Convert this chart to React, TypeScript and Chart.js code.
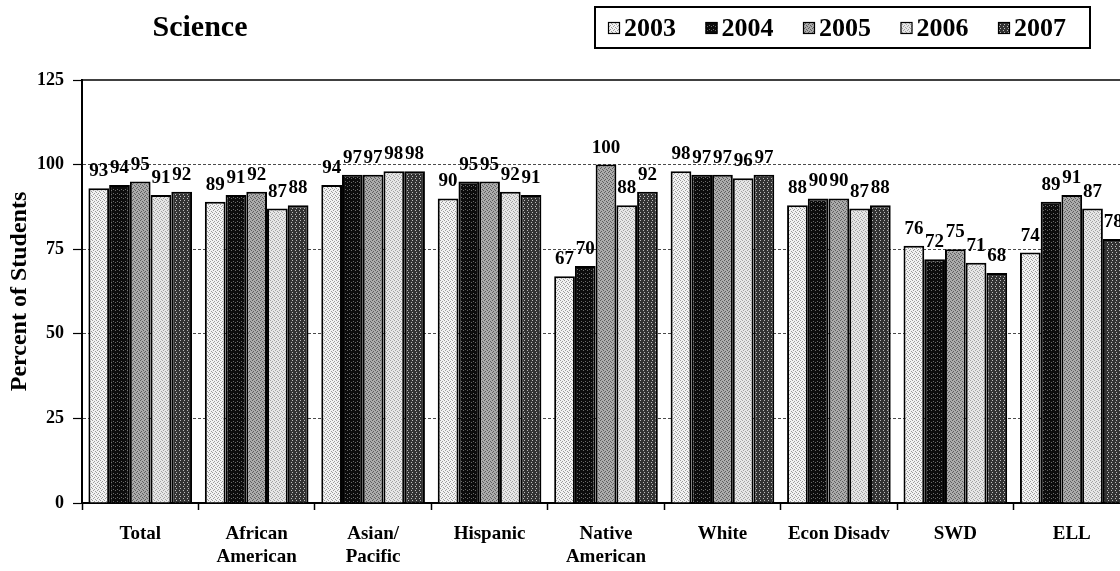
import React, { useEffect, useRef } from 'react';
import { Chart, registerables } from 'chart.js';

Chart.register(...registerables);

const categories: string[][] = [
  ['Total'],
  ['African', 'American'],
  ['Asian/', 'Pacific'],
  ['Hispanic'],
  ['Native', 'American'],
  ['White'],
  ['Econ Disadv'],
  ['SWD'],
  ['ELL'],
];
const seriesNames = ['2003', '2004', '2005', '2006', '2007'];
const v2003 = [93, 89, 94, 90, 67, 98, 88, 76, 74];
const v2004 = [94, 91, 97, 95, 70, 97, 90, 72, 89];
const v2005 = [95, 92, 97, 95, 100, 97, 90, 75, 91];
const v2006 = [91, 87, 98, 92, 88, 96, 87, 71, 87];
const v2007 = [92, 88, 98, 91, 92, 97, 88, 68, 78];
const yMin = 0;
const yMax = 125;
const yStep = 25;
const chartTitle = 'Science';
const yTitle = 'Percent of Students';

const FONT = "'Liberation Serif', 'Times New Roman', serif";

// pattern specs: base colour, dot colour, dot positions in a 4x4 cell
const patternSpecs = [
  { base: '#f2f2f2', dot: '#9c9c9c', dots: [[0, 0], [2, 1], [1, 2], [3, 3]] },
  { base: '#0c0c0c', dot: '#6a6a6a', dots: [[1, 1], [3, 2]] },
  { base: '#ababab', dot: '#5e5e5e', dots: [[0, 0], [2, 1], [1, 3], [3, 2]] },
  { base: '#e6e6e6', dot: '#a2a2a2', dots: [[0, 1], [2, 0], [1, 3], [3, 2]] },
  { base: '#333333', dot: '#bdbdbd', dots: [[0, 0], [3, 2]] },
];

function makePattern(spec: { base: string; dot: string; dots: number[][] }): CanvasPattern | string {
  const c = document.createElement('canvas');
  c.width = 4;
  c.height = 4;
  const g = c.getContext('2d');
  if (!g) return spec.base;
  g.fillStyle = spec.base;
  g.fillRect(0, 0, 4, 4);
  g.fillStyle = spec.dot;
  spec.dots.forEach(([x, y]) => g.fillRect(x, y, 1, 1));
  const p = g.createPattern(c, 'repeat');
  return p || spec.base;
}

export default function App() {
  const ref = useRef<HTMLCanvasElement | null>(null);

  useEffect(() => {
    if (!ref.current) return;
    const patterns = patternSpecs.map(makePattern);
    const values = [v2003, v2004, v2005, v2006, v2007];

    const labelPlugin = {
      id: 'valueLabels',
      afterDatasetsDraw(chart: any) {
        const ctx = chart.ctx;
        ctx.save();
        ctx.fillStyle = '#000';
        ctx.font = `bold 19px ${FONT}`;
        ctx.textAlign = 'center';
        ctx.textBaseline = 'alphabetic';
        chart.data.datasets.forEach((ds: any, i: number) => {
          const meta = chart.getDatasetMeta(i);
          meta.data.forEach((el: any, j: number) => {
            ctx.fillText(String(ds.data[j]), el.x, el.y - 12);
          });
        });
        ctx.restore();
      },
    };

    const framePlugin = {
      id: 'frameTitleLegend',
      afterDraw(chart: any) {
        const ctx = chart.ctx;
        const a = chart.chartArea;
        ctx.save();
        // top frame line
        ctx.strokeStyle = '#000';
        ctx.lineWidth = 1.5;
        ctx.beginPath();
        ctx.moveTo(a.left, a.top);
        ctx.lineTo(a.right, a.top);
        ctx.stroke();
        // title
        ctx.fillStyle = '#000';
        ctx.font = `bold 30px ${FONT}`;
        ctx.textAlign = 'center';
        ctx.textBaseline = 'middle';
        ctx.fillText(chartTitle, 200, 28);
        // legend box
        ctx.lineWidth = 2;
        ctx.strokeRect(595, 7, 495, 41);
        ctx.font = `bold 26px ${FONT}`;
        ctx.textAlign = 'left';
        ctx.textBaseline = 'middle';
        seriesNames.forEach((name, i) => {
          const x = 608 + i * 97.5;
          const y = 28;
          ctx.fillStyle = patterns[i] as any;
          ctx.fillRect(x, y - 6, 12, 12);
          ctx.lineWidth = 1.2;
          ctx.strokeStyle = '#000';
          ctx.strokeRect(x + 0.5, y - 5.5, 11, 11);
          ctx.fillStyle = '#000';
          ctx.fillText(name, x + 16, y + 1);
        });
        ctx.restore();
      },
    };

    const chart = new Chart(ref.current, {
      type: 'bar',
      data: {
        labels: categories,
        datasets: seriesNames.map((name, i) => ({
          label: name,
          data: values[i],
          backgroundColor: patterns[i] as any,
          borderColor: '#000',
          borderWidth: 2,
          barPercentage: 1,
          categoryPercentage: 0.89,
        })),
      },
      options: {
        responsive: false,
        animation: false,
        devicePixelRatio: 1,
        layout: { padding: { top: 80, right: 10, left: 0, bottom: 0 } },
        plugins: {
          legend: { display: false },
          title: { display: false },
          tooltip: { enabled: false },
        },
        scales: {
          x: {
            ticks: {
              color: '#000',
              font: { family: FONT, size: 19, weight: 'bold' },
              padding: 13,
              maxRotation: 0,
              autoSkip: false,
            },
            grid: {
              display: true,
              drawOnChartArea: false,
              drawTicks: true,
              tickLength: 7,
              tickColor: '#000',
              tickWidth: 1.5,
              offset: true,
            },
            border: { display: true, color: '#000', width: 2 },
            afterFit: (s: any) => {
              s.height = 68;
            },
          },
          y: {
            min: yMin,
            max: yMax,
            ticks: {
              stepSize: yStep,
              color: '#000',
              font: { family: FONT, size: 18, weight: 'bold' },
              padding: 9,
            },
            grid: {
              color: (c: any) =>
                c.tick && (c.tick.value === yMin || c.tick.value === yMax) ? 'rgba(0,0,0,0)' : '#4a4a4a',
              lineWidth: 1,
              tickLength: 9,
              tickColor: '#000',
              tickWidth: 1.2,
            },
            border: { display: true, color: '#000', width: 2, dash: [3, 2] },
            title: {
              display: true,
              text: yTitle,
              color: '#000',
              font: { family: FONT, size: 24, weight: 'bold' },
              padding: { top: 5, bottom: 0 },
            },
            afterFit: (s: any) => {
              s.width = 82;
            },
          },
        },
      } as any,
      plugins: [labelPlugin, framePlugin],
    });
    return () => chart.destroy();
  }, []);

  return (
    <div style={{ position: 'fixed', left: 0, top: 0, width: 1120, height: 571, overflow: 'hidden', background: '#fff' }}>
      <canvas ref={ref} width={1140} height={571} style={{ display: 'block', width: 1140, height: 571 }} />
    </div>
  );
}
